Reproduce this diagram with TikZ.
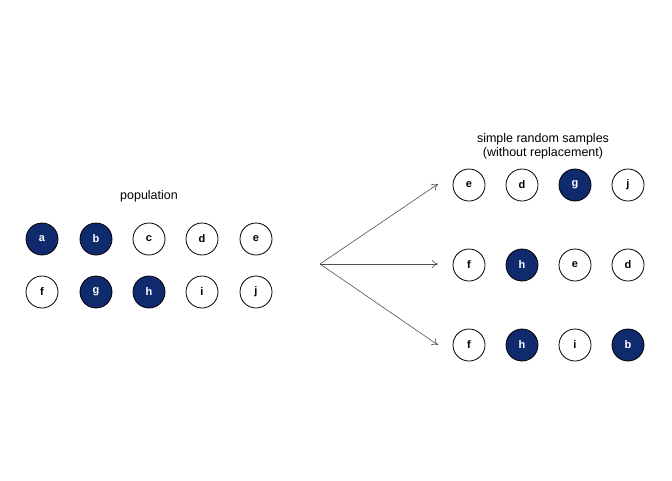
\documentclass[tikz,border=0pt]{standalone}
\usepackage{fontspec}
\setmainfont{Liberation Sans}
\usetikzlibrary{arrows.meta}
\begin{document}
\begin{tikzpicture}[x=1pt,y=-1pt,
  c/.style={circle,draw=black,line width=0.8pt,minimum size=32pt,inner sep=0pt,font=\fontsize{11}{11}\selectfont\bfseries},
  s/.style={c,fill={rgb,255:red,16;green,42;blue,110},text=white},
  w/.style={c,fill=white},
  lab/.style={font=\fontsize{12.5}{14}\selectfont,align=center},
  ar/.style={draw={rgb,255:red,80;green,80;blue,80},line width=0.6pt,-{To[length=6pt,width=8pt]}}]
\useasboundingbox (0,0) rectangle (672,480);
\node[lab] (pop) at (149,196) {population};
\node[s] (pa) at (42,239) {a};
\node[s] (pb) at (96,239) {b};
\node[w] (pc) at (149,239) {c};
\node[w] (pd) at (202,239) {d};
\node[w] (pe) at (256,239) {e};
\node[w] (pf) at (42,292) {f};
\node[s] (pg) at (96,292) {g};
\node[s] (ph) at (149,292) {h};
\node[w] (pi) at (202,292) {i};
\node[w] (pj) at (256,292) {j};
\node[lab] (title) at (543,146) {simple random samples\\(without replacement)};
\node[w] (a1) at (469,185) {e};
\node[w] (a2) at (522,185) {d};
\node[s] (a3) at (575,185) {g};
\node[w] (a4) at (628,185) {j};
\node[w] (b1) at (469,265) {f};
\node[s] (b2) at (522,265) {h};
\node[w] (b3) at (575,265) {e};
\node[w] (b4) at (628,265) {d};
\node[w] (c1) at (469,345) {f};
\node[s] (c2) at (522,345) {h};
\node[w] (c3) at (575,345) {i};
\node[s] (c4) at (628,345) {b};
\coordinate (o) at (320,264);
\coordinate (t1) at (438,184);
\coordinate (t2) at (438,264);
\coordinate (t3) at (438,345);
\draw[ar] (o) -- (t1);
\draw[ar] (o) -- (t2);
\draw[ar] (o) -- (t3);
\end{tikzpicture}
\end{document}
